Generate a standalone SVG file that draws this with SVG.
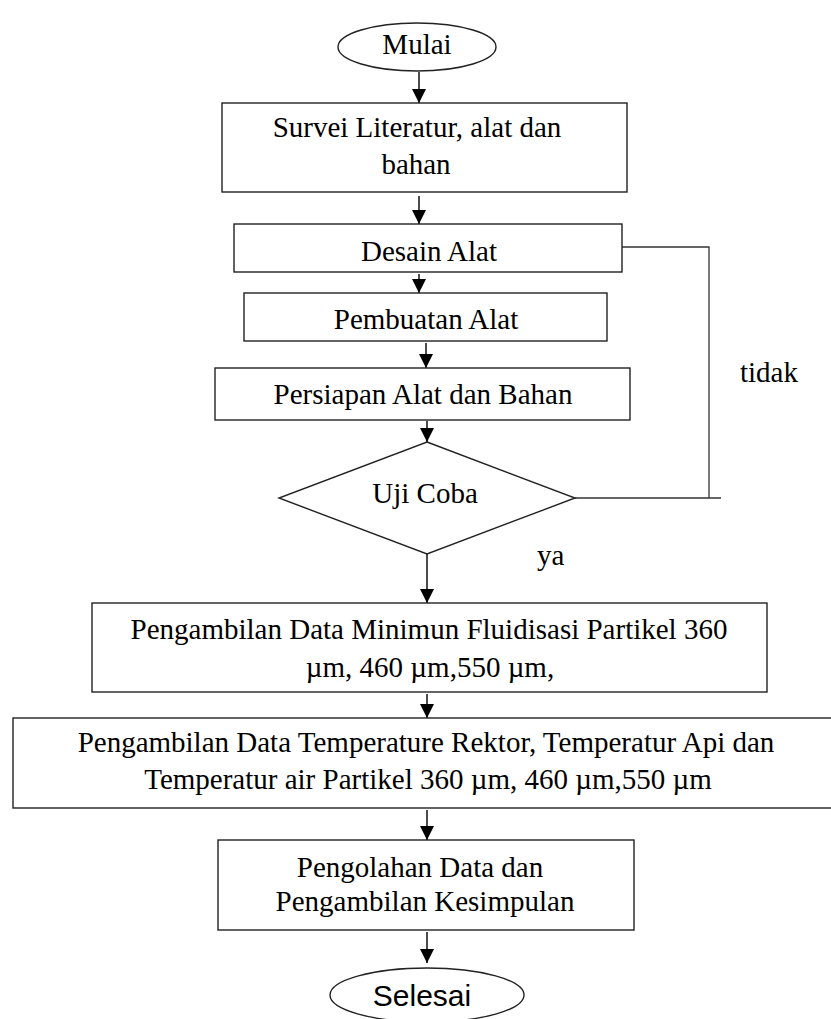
<svg xmlns="http://www.w3.org/2000/svg" width="831" height="1019" viewBox="0 0 831 1019">
<style>
.shape{fill:#fff;stroke:#222;stroke-width:1.4}
.t{font-family:"Liberation Serif","Times New Roman",serif;font-size:29px;fill:#000;text-anchor:middle}
.s{font-family:"Liberation Sans",Arial,sans-serif;font-size:30px;fill:#000;text-anchor:middle}
.lbl{font-family:"Liberation Serif","Times New Roman",serif;font-size:29px;fill:#000}
.c{fill:none;stroke:#111;stroke-width:1.5}
.loop{fill:none;stroke:#333;stroke-width:1.3}
</style>
<defs>
<marker id="ah" markerUnits="userSpaceOnUse" markerWidth="16" markerHeight="14" refX="14" refY="7" orient="auto">
<path d="M0,0 L14,7 L0,14 Z" fill="#000"/>
</marker>
</defs>
<rect width="831" height="1019" fill="#fff"/>
<g id="connectors">
<line class="c" x1="419" y1="72" x2="419" y2="103" marker-end="url(#ah)"/>
<line class="c" x1="419" y1="196" x2="419" y2="224" marker-end="url(#ah)"/>
<line class="c" x1="419" y1="274" x2="419" y2="293" marker-end="url(#ah)"/>
<line class="c" x1="426" y1="343" x2="426" y2="368" marker-end="url(#ah)"/>
<line class="c" x1="427" y1="421" x2="427" y2="442" marker-end="url(#ah)"/>
<line class="c" x1="427" y1="554" x2="427" y2="603" marker-end="url(#ah)"/>
<line class="c" x1="427" y1="694" x2="427" y2="718" marker-end="url(#ah)"/>
<line class="c" x1="427" y1="810" x2="427" y2="840" marker-end="url(#ah)"/>
<line class="c" x1="427" y1="932" x2="427" y2="963" marker-end="url(#ah)"/>
<polyline class="loop" points="622,247 709,247 709,498"/>
<line class="loop" x1="575" y1="498" x2="721" y2="498"/>
<text class="lbl" x="740" y="382">tidak</text>
<text class="lbl" x="537" y="565">ya</text>
</g>
<g id="mulai">
<ellipse class="shape" cx="417" cy="47" rx="79" ry="24"/>
<text class="t" x="417" y="54">Mulai</text>
</g>
<g id="survei">
<rect class="shape" x="222" y="103" width="405" height="89"/>
<text class="t" x="417" y="137">Survei Literatur, alat dan</text>
<text class="t" x="416" y="174">bahan</text>
</g>
<g id="desain">
<rect class="shape" x="234" y="224" width="388" height="48"/>
<text class="t" x="429" y="261">Desain Alat</text>
</g>
<g id="pembuatan">
<rect class="shape" x="244" y="293" width="363" height="48"/>
<text class="t" x="426" y="329">Pembuatan Alat</text>
</g>
<g id="persiapan">
<rect class="shape" x="215" y="368" width="415" height="52"/>
<text class="t" x="423" y="404">Persiapan Alat dan Bahan</text>
</g>
<g id="ujicoba">
<polygon class="shape" points="427,442 575,498 427,554 279,498"/>
<text class="t" x="425" y="503">Uji Coba</text>
</g>
<g id="data-fluidisasi">
<rect class="shape" x="92" y="603" width="675" height="89"/>
<text class="t" x="429" y="639">Pengambilan Data Minimun Fluidisasi Partikel 360</text>
<text class="t" x="430" y="677">µm, 460 µm,550 µm,</text>
</g>
<g id="data-temperatur">
<rect class="shape" x="13" y="718" width="825" height="90"/>
<text class="t" x="426" y="752">Pengambilan Data Temperature Rektor, Temperatur Api dan</text>
<text class="t" x="428" y="789">Temperatur air Partikel 360 µm, 460 µm,550 µm</text>
</g>
<g id="pengolahan">
<rect class="shape" x="218" y="840" width="416" height="90"/>
<text class="t" x="420" y="877">Pengolahan Data dan</text>
<text class="t" x="425" y="911">Pengambilan Kesimpulan</text>
</g>
<g id="selesai">
<ellipse class="shape" cx="427" cy="995" rx="97" ry="27"/>
<text class="s" x="422" y="1006">Selesai</text>
</g>
</svg>
